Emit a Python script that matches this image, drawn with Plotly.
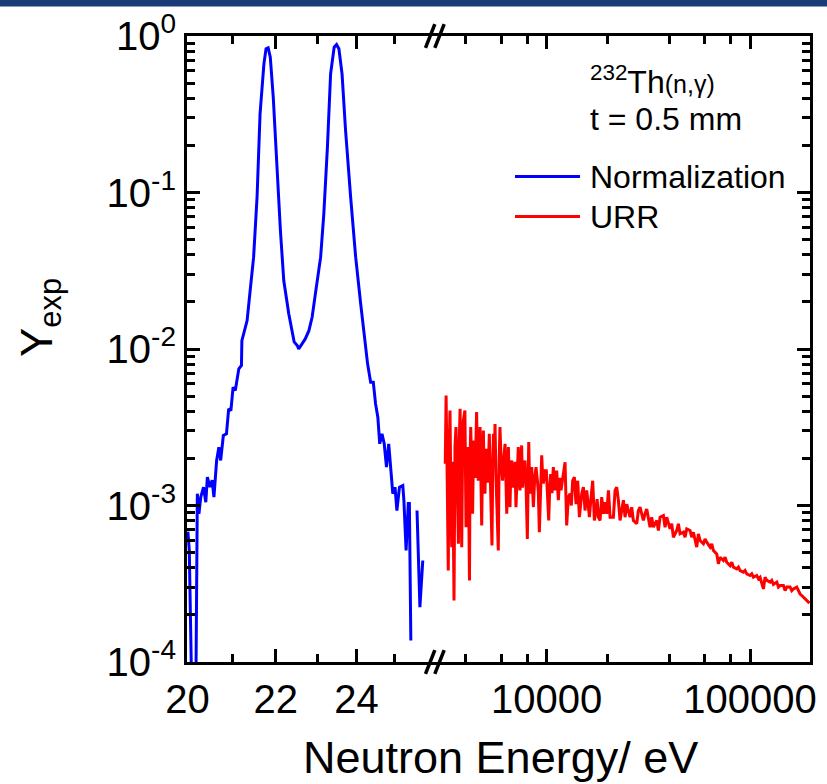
import math
import plotly.graph_objects as go

# ---------------- data ----------------
# Normalization run (resonance region), energies in eV
E_norm = [20.01, 20.04, 20.10, 20.18, 20.215, 20.25, 20.29, 20.35, 20.40, 20.435,
          20.49, 20.54, 20.58, 20.64, 20.69, 20.73, 20.79, 20.86, 20.91, 20.96,
          21.01, 21.06, 21.14, 21.20, 21.21, 21.33, 21.40, 21.48, 21.56, 21.63,
          21.72, 21.77, 21.82, 21.87, 21.94, 22.02, 22.11, 22.19, 22.31, 22.44,
          22.52, 22.55, 22.63, 22.71, 22.80, 22.88, 22.96, 23.09, 23.17, 23.26,
          23.34, 23.43, 23.49, 23.55, 23.63, 23.72, 23.85, 23.98, 24.11, 24.24,
          24.29, 24.37, 24.44, 24.50, 24.56, 24.61, 24.67, 24.73, 24.79, 24.85,
          24.89, 24.96, 25.02, 25.07, 25.14, 25.23, 25.26, 25.32, 25.38, 25.41,
          25.45, 25.53, 25.62, 25.70, 25.78]
Y_norm = [6.8e-4, 5.2e-4, 5e-5, 5e-5, 1.19e-3, 8.85e-4, 1.13e-3, 1.31e-3, 1.05e-3, 1.52e-3,
          1.31e-3, 1.45e-3, 1.13e-3, 1.94e-3, 2.36e-3, 1.94e-3, 2.80e-3, 2.87e-3, 4.15e-3, 4.04e-3,
          5.70e-3, 5.43e-3, 7.47e-3, 7.85e-3, 0.0113, 0.0152, 0.0236, 0.0386, 0.0933, 0.318,
          0.664, 0.828, 0.840, 0.732, 0.407, 0.153, 0.0572, 0.0274, 0.0168, 0.0111,
          0.0105, 0.0100, 0.0108, 0.0116, 0.0131, 0.0160, 0.0225, 0.0386, 0.0731, 0.195,
          0.573, 0.849, 0.882, 0.828, 0.573, 0.249, 0.0933, 0.0386, 0.0194, 0.0103,
          8.04e-3, 6.14e-3, 6.14e-3, 4.46e-3, 3.67e-3, 2.48e-3, 2.87e-3, 2.48e-3, 1.76e-3, 2.48e-3,
          1.94e-3, 1.19e-3, 1.31e-3, 9.29e-4, 1.31e-3, 1.34e-3, 1.08e-3, 5.16e-4, 1.03e-3, 1.03e-3,
          1.37e-4, None, 9.29e-4, 2.24e-4, 4.45e-4]

# URR measurement, energies in eV
E_urr = [3170, 3185, 3200, 3240, 3280, 3310, 3345, 3375, 3410, 3450,
         3500, 3540, 3580, 3630, 3680, 3715, 3750, 3785, 3820, 3855,
         3890, 3960, 3985, 4010, 4050, 4090, 4130, 4170, 4200, 4230,
         4275, 4320, 4355, 4390, 4450, 4520, 4565, 4610, 4655, 4700,
         4745, 4790, 4835, 4880, 4925, 4970, 5020, 5070, 5140, 5220,
         5270, 5320, 5380, 5425, 5470, 5520, 5570, 5625, 5680, 5780,
         5835, 5890, 5980, 6070, 6150, 6240, 6300, 6360, 6420, 6480,
         6540, 6600, 6660, 6730, 6820, 6910, 6985, 7060, 7150, 7250,
         7320, 7390, 7460, 7530, 7600, 7680, 7750, 7820, 7920, 8030,
         8090, 8160, 8220, 8280, 8360, 8440, 8520, 8600, 8730, 8860,
         9000, 9100, 9200, 9320, 9450, 9540, 9630, 9720, 9810, 9950,
         10080, 10230, 10350, 10460, 10620, 10780, 10990, 11200, 11410, 11580,
         11760, 12080, 12310, 12540, 12780, 13030, 13220, 13420, 13680, 13940,
         14210, 14480, 14870, 15150, 15440, 15740, 15980, 16220, 16530, 16840,
         17160, 17490, 17700, 17960, 18300, 18650, 19010, 19370, 19740, 20120,
         20500, 21280, 21690, 22100, 22520, 22950, 23840, 24290, 24760, 25700,
         26190, 26690, 27720, 28250, 28790, 29890, 30460, 31050, 32240, 32850,
         33480, 34770, 35430, 36110, 37500, 38210, 38940, 40440, 41210, 42000,
         43610, 44440, 45290, 47030, 47920, 48840, 50720, 51680, 52670, 54700,
         55740, 56810, 58990, 60110, 61260, 63620, 64830, 66070, 68610, 69910,
         71250, 73990, 75400, 76840, 79800, 81320, 82870, 86060, 87700, 89370,
         92810, 94570, 96380, 100090, 102000, 103940, 107940, 110000, 112090, 116410,
         118600, 120890, 125540, 127900, 130370, 135390, 138000, 140600, 146010, 148800,
         151630, 157460, 160500, 163520, 169820, 173000, 176350, 179700, 183140, 186600,
         190190, 196000]
Y_urr = [1.85e-3, 3.0e-3, 5.05e-3, 1.5e-3, 3.84e-4, 2.2e-3, 4.05e-3, 1.3e-3, 5.42e-4, 1.9e-3,
         2.47e-4, 2.4e-3, 3.17e-3, 1.4e-3, 5.69e-4, 2.6e-3, 4.15e-3, 1.6e-3, 5.42e-4, 2.1e-3,
         3.49e-3, 4.05e-3, 1.8e-3, 7.27e-4, 1.7e-3, 2.36e-3, 1.2e-3, 3.32e-4, 2.0e-3, 3.17e-3,
         1.6e-3, 8.85e-4, 1.9e-3, 2.60e-3, 1.5e-3, 3.95e-3, 2.0e-3, 1.44e-3, 2.3e-3, 3.17e-3,
         1.5e-3, 7.45e-4, 2.0e-3, 3.01e-3, 1.6e-3, 1.19e-3, 2.3e-3, 1.94e-3, 1.4e-3, 2.87e-3,
         1.8e-3, 1.13e-3, 5.55e-4, 1.7e-3, 2.87e-3, 1.9e-3, 3.32e-3, 1.6e-3, 1.13e-3, 5.16e-4,
         1.9e-3, 3.17e-3, 1.8e-3, 1.44e-3, 2.0e-3, 2.48e-3, 1.5e-3, 8.85e-4, 1.6e-3, 2.36e-3,
         1.4e-3, 9.76e-4, 1.7e-3, 1.94e-3, 1.3e-3, 1.59e-3, 1.9e-3, 9.76e-4, 1.5e-3, 2.36e-3,
         1.6e-3, 1.25e-3, 1.8e-3, 2.42e-3, 1.3e-3, 1.44e-3, 1.7e-3, 1.94e-3, 1.3e-3, 6.12e-4,
         1.5e-3, 2.54e-3, 1.6e-3, 1.19e-3, 1.6e-3, 1.76e-3, 1.3e-3, 9.76e-4, 1.5e-3, 1.76e-3,
         1.44e-3, 1.2e-3, 6.75e-4, 1.5e-3, 2.09e-3, 1.6e-3, 1.38e-3, 1.7e-3, 1.44e-3, 1.7e-3,
         1.19e-3, 8.02e-4, 1.3e-3, 1.59e-3, 1.2e-3, 1.76e-3, 1.25e-3, 1.67e-3, 1.08e-3, 1.5e-3,
         1.25e-3, 1.59e-3, 1.89e-3, 7.45e-4, 1.13e-3, 1.19e-3, 1.0e-3, 1.44e-3, 1.52e-3, 1.02e-3,
         1.44e-3, 8.42e-4, 1.19e-3, 1.31e-3, 9.29e-4, 1.25e-3, 1.05e-3, 8.42e-4, 1.13e-3, 1.44e-3,
         8.02e-4, 9.29e-4, 1.1e-3, 8.42e-4, 8.02e-4, 1.13e-3, 8.85e-4, 1.05e-3, 8.85e-4, 1.25e-3,
         8.42e-4, 8.42e-4, 1.25e-3, 1.31e-3, 1.08e-3, 8.02e-4, 1.08e-3, 8.42e-4, 1.02e-3, 8.42e-4,
         9.76e-4, 8.02e-4, 7.64e-4, 9.29e-4, 9.76e-4, 8.02e-4, 8.85e-4, 9.5e-4, 7.27e-4, 8.42e-4,
         7.27e-4, 8.02e-4, 6.92e-4, 8.42e-4, 8.63e-4, 7.27e-4, 8.42e-4, 7.09e-4, 7.64e-4, 6.27e-4,
         6.92e-4, 7.64e-4, 6.59e-4, 6.75e-4, 6.27e-4, 7.09e-4, 6.92e-4, 6.27e-4, 6.75e-4, 5.42e-4,
         6.59e-4, 5.97e-4, 5.69e-4, 6.12e-4, 5.83e-4, 5.42e-4, 5.69e-4, 5.16e-4, 4.91e-4, 4.24e-4,
         4.67e-4, 4.45e-4, 4.67e-4, 4.34e-4, 4.13e-4, 4.34e-4, 4.04e-4, 3.94e-4, 4.04e-4, 3.84e-4,
         3.75e-4, 3.84e-4, 3.66e-4, 3.57e-4, 3.66e-4, 3.48e-4, 3.57e-4, 3.40e-4, 3.48e-4, 2.93e-4,
         3.48e-4, 3.32e-4, 3.24e-4, 3.32e-4, 3.13e-4, 3.24e-4, 3.01e-4, 3.08e-4, 3.08e-4, 2.86e-4,
         3.01e-4, 3.01e-4, 2.86e-4, 2.93e-4, 3.01e-4, 2.86e-4, 2.72e-4, 2.66e-4, 2.60e-4, 2.53e-4,
         2.47e-4, 2.38e-4]

# tick values / labels
x1_ticks = [20, 22, 24]
x1_labels = ["20", "22", "24"]
x1_minor = [21, 23, 25]
x2_ticks = [10000, 100000]
x2_labels = ["10000", "100000"]
x2_minor = [4000, 6000, 8000, 20000, 40000, 60000, 80000]
y_ticks = [1e-4, 1e-3, 1e-2, 1e-1, 1]
y_labels = ["10<sup>-4</sup>", "10<sup>-3</sup>", "10<sup>-2</sup>", "10<sup>-1</sup>", "10<sup>0</sup>"]
y_minor = [m * 10.0 ** e for e in range(-4, 0) for m in range(2, 10)]

x1_range = [20, 26.17]
x2_range = [2877, 197300]
y_range = [1e-4, 1]

# ---------------- layout constants ----------------
W, H = 827, 784
ML, MR, MT, MB = 187, 17, 36, 122
PW, PH = W - ML - MR, H - MT - MB
SPLIT = (436.7 - ML) / PW

FONT = "Liberation Sans, Arial, Helvetica, sans-serif"
BLUE = "#0000FF"
RED = "#FF0000"


def px(x):
    return (x - ML) / PW


def py(y):
    return (H - MB - y) / PH


fig = go.Figure()
fig.add_trace(go.Scatter(x=E_norm, y=Y_norm, mode="lines", name="Normalization",
                         line=dict(color=BLUE, width=3), connectgaps=False,
                         xaxis="x", yaxis="y", showlegend=False))
fig.add_trace(go.Scatter(x=E_urr, y=Y_urr, mode="lines", name="URR",
                         line=dict(color=RED, width=3),
                         xaxis="x2", yaxis="y2", showlegend=False))

common_axis = dict(
    type="log", showgrid=False, zeroline=False, showline=True, linewidth=3,
    linecolor="black", ticks="inside", ticklen=13, tickwidth=3, tickcolor="black",
    tickfont=dict(family=FONT, size=40, color="black"),
)
minor_style = dict(ticks="inside", ticklen=8, tickwidth=3, tickcolor="black", showgrid=False)

fig.update_layout(
    width=W, height=H,
    margin=dict(l=ML, r=MR, t=MT, b=MB, autoexpand=False),
    paper_bgcolor="white", plot_bgcolor="white",
    font=dict(family=FONT, color="black"),
    showlegend=False,
    xaxis=dict(common_axis, domain=[0, SPLIT], anchor="y", mirror="ticks",
               range=[math.log10(x1_range[0]) - 0.0002, math.log10(x1_range[1])],
               tickmode="array", tickvals=x1_ticks, ticktext=x1_labels,
               minor=dict(minor_style, tickvals=x1_minor)),
    xaxis2=dict(common_axis, domain=[SPLIT, 1], anchor="y2", mirror="ticks",
                range=[math.log10(x2_range[0]), math.log10(x2_range[1])],
                tickmode="array", tickvals=x2_ticks, ticktext=x2_labels,
                minor=dict(minor_style, tickvals=x2_minor)),
    yaxis=dict(common_axis, anchor="x", side="left",
               range=[math.log10(y_range[0]), math.log10(y_range[1])],
               tickmode="array", tickvals=y_ticks, ticktext=y_labels,
               minor=dict(minor_style, tickvals=y_minor)),
    yaxis2=dict(common_axis, anchor="x2", side="right", overlaying="y",
                range=[math.log10(y_range[0]), math.log10(y_range[1])],
                tickmode="array", tickvals=y_ticks, ticktext=y_labels,
                showticklabels=False,
                minor=dict(minor_style, tickvals=y_minor)),
)

shapes = []
# dark banner at the very top
shapes.append(dict(type="rect", xref="paper", yref="paper", x0=px(0) - 0.01, x1=px(W) + 0.01,
                   y0=py(6.5), y1=py(-2), fillcolor="#1b3a78", line=dict(width=0), layer="above"))
# axis break marks
for yb in (0.0, 1.0):
    for off in (-0.0075, 0.0075):
        cx = SPLIT + off - 0.003
        shapes.append(dict(type="line", xref="paper", yref="paper",
                           x0=cx - 0.0075, x1=cx + 0.0075, y0=yb - 0.019, y1=yb + 0.019,
                           line=dict(color="black", width=3.5), layer="above"))
# legend samples
shapes.append(dict(type="line", xref="paper", yref="paper", x0=px(515), x1=px(580),
                   y0=py(176.5), y1=py(176.5), line=dict(color=BLUE, width=3)))
shapes.append(dict(type="line", xref="paper", yref="paper", x0=px(515), x1=px(580),
                   y0=py(216.5), y1=py(216.5), line=dict(color=RED, width=3)))
fig.update_layout(shapes=shapes)

TXT = 32
ann = []
ann.append(dict(text="<sup>232</sup>Th<span style='font-size:25px'>(n,γ)</span>",
                x=px(588), y=py(80), xref="paper", yref="paper", xanchor="left", yanchor="middle",
                showarrow=False, font=dict(family=FONT, size=TXT, color="black")))
ann.append(dict(text="t = 0.5 mm", x=px(588), y=py(119), xref="paper", yref="paper",
                xanchor="left", yanchor="middle", showarrow=False,
                font=dict(family=FONT, size=TXT, color="black")))
ann.append(dict(text="Normalization", x=px(588), y=py(176.5), xref="paper", yref="paper",
                xanchor="left", yanchor="middle", showarrow=False,
                font=dict(family=FONT, size=TXT, color="black")))
ann.append(dict(text="URR", x=px(588), y=py(216.5), xref="paper", yref="paper",
                xanchor="left", yanchor="middle", showarrow=False,
                font=dict(family=FONT, size=TXT, color="black")))
ann.append(dict(text="Neutron Energy/ eV", x=px(500), y=py(757), xref="paper", yref="paper",
                xanchor="center", yanchor="middle", showarrow=False,
                font=dict(family=FONT, size=45, color="black")))
ann.append(dict(text="Y<sub>exp</sub>", x=px(40), y=py(318), xref="paper", yref="paper",
                xanchor="center", yanchor="middle", showarrow=False, textangle=-90,
                font=dict(family=FONT, size=44, color="black")))
fig.update_layout(annotations=ann)

fig.write_html("out.html")
